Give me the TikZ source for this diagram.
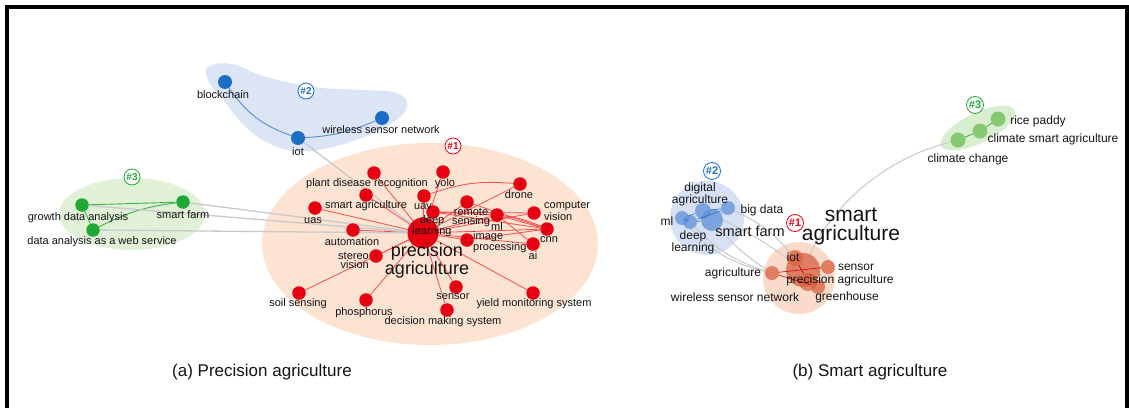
\documentclass[tikz,border=0pt]{standalone}
\usepackage{fontspec}
\setmainfont{Liberation Sans}
\definecolor{rnode}{HTML}{E60012}
\definecolor{redge}{HTML}{F25050}
\definecolor{peach}{HTML}{FDE3D2}
\definecolor{bnode}{HTML}{1C6EC4}
\definecolor{bedge}{HTML}{5A8CCF}
\definecolor{bhull}{HTML}{DCE5F6}
\definecolor{gnode}{HTML}{20A834}
\definecolor{gedge}{HTML}{40B448}
\definecolor{ghull}{HTML}{E0F1D8}
\definecolor{grayedge}{HTML}{C9C9C9}
\definecolor{txt}{HTML}{141414}
\definecolor{bnodeR}{HTML}{6190D8}
\definecolor{bhullR}{HTML}{D6E1F6}
\definecolor{onode}{HTML}{D8603E}
\definecolor{ohull}{HTML}{FADACB}
\definecolor{gnodeR}{HTML}{86C970}
\definecolor{ghullR}{HTML}{D9EED0}
\pgfdeclarelayer{hull}
\pgfdeclarelayer{edges}
\pgfsetlayers{hull,edges,main}
\begin{document}
\begin{tikzpicture}[x=1pt,y=-1pt,
  lab/.style={font=\fontsize{11}{9.5}\selectfont, text=txt, inner sep=0pt, align=center},
  labR/.style={font=\fontsize{12}{11}\selectfont, text=txt, inner sep=0pt, align=center},
  rn/.style={circle, fill=rnode, minimum size=13.5pt, inner sep=0pt},
  bn/.style={circle, fill=bnode, minimum size=14pt, inner sep=0pt},
  gn/.style={circle, fill=gnode, minimum size=13.5pt, inner sep=0pt},
  bnR/.style={circle, fill=bnodeR, fill opacity=0.75, minimum size=#1, inner sep=0pt},
  onR/.style={circle, fill=onode, fill opacity=0.75, minimum size=#1, inner sep=0pt},
  gnR/.style={circle, fill=gnodeR, minimum size=15pt, inner sep=0pt},
  clusttag/.style={circle, draw=#1, fill=white, line width=0.8pt, minimum size=16pt, inner sep=0pt, text=#1, font=\bfseries\fontsize{10}{10}\selectfont},
  redg/.style={draw=redge, line width=0.8pt},
  bedg/.style={draw=bedge, line width=0.9pt},
  gedg/.style={draw=gedge, line width=0.9pt},
  grayedg/.style={draw=grayedge, line width=1.3pt},
  caption/.style={font=\fontsize{17}{17}\selectfont, text=txt, inner sep=0pt}
]
\useasboundingbox (0,0) rectangle (1129,407);

% ---------- hulls ----------
\begin{pgfonlayer}{hull}
\fill[white] (0,0) rectangle (1129,407);
\fill[bhull] plot[smooth cycle, tension=0.7] coordinates {(208,67) (232,64) (263,76) (313,87) (363,90) (393,92) (407,102) (400,117) (373,133) (333,147) (297,151) (268,143) (245,126) (223,100) (209,82)};
\fill[ghull] (132,214) ellipse [x radius=73pt, y radius=36pt];
\fill[peach] (430,244) ellipse [x radius=168pt, y radius=101pt];
\fill[bhullR] (707,218) circle [radius=37pt];
\fill[ohull] (799,278) circle [radius=36pt];
\fill[ghullR, shift={(978,128)}, rotate=26] (0,0) ellipse [x radius=41pt, y radius=15pt];
\end{pgfonlayer}
\draw[line width=3.5pt] (7,415) -- (7,7) -- (1127,7) -- (1127,415);

% ---------- left panel nodes ----------
\node[circle, fill=rnode, minimum size=31pt, inner sep=0pt] (hubA) at (423,233) {};
\node[rn] (pdr) at (374,173) {};
\node[rn] (yolo) at (443,172) {};
\node[rn] (drone) at (520,184) {};
\node[rn] (sagr) at (366,195) {};
\node[rn] (uav) at (424,196) {};
\node[rn] (uas) at (315,208) {};
\node[rn] (rs) at (467,202) {};
\node[rn] (dl) at (433,212) {};
\node[rn] (ml) at (497,215) {};
\node[rn] (cv) at (534,213) {};
\node[rn] (cnn) at (547,229) {};
\node[rn] (auto) at (353,230) {};
\node[rn] (ip) at (467,240) {};
\node[rn] (ai) at (533,244) {};
\node[rn] (sv) at (376,256) {};
\node[rn] (soil) at (299,293) {};
\node[rn] (phos) at (366,300) {};
\node[rn] (sensor) at (456,287) {};
\node[rn] (dms) at (447,310) {};
\node[rn] (yms) at (533,293) {};

\node[bn] (bc) at (225,82) {};
\node[bn] (iotA) at (298,138) {};
\node[bn] (wsnA) at (382,118) {};

\node[gn] (gda) at (82,205) {};
\node[gn] (sfA) at (183,202) {};
\node[gn] (daws) at (93,230) {};

% ---------- left panel edges ----------
\begin{pgfonlayer}{edges}
\foreach \n in {pdr,yolo,drone,sagr,uav,uas,rs,dl,ml,cv,cnn,auto,ip,ai,sv,soil,phos,sensor,dms,yms}
  \draw[redg] (hubA) -- (\n);
\draw[redg] (uav) to[bend left=12] (drone);
\draw[redg] (dl) -- (ml);
\draw[redg] (dl) -- (cv);
\draw[redg] (dl) -- (cnn);
\draw[redg] (ml) -- (cnn);
\draw[redg] (ml) to[bend left=8] (cnn);
\draw[redg] (ml) -- (ai);
\draw[redg] (ip) -- (cnn);
\draw[redg] (rs) -- (cnn);
\draw[bedg] (bc) to[bend right=18] (iotA);
\draw[bedg] (iotA) to[bend right=10] (wsnA);
\draw[gedg] (gda) -- (sfA);
\draw[gedg] (gda) -- (daws);
\draw[gedg] (daws) to[bend left=10] (sfA);
\draw[grayedg] (iotA) -- (hubA);
\draw[grayedg] (sfA) -- (hubA);
\draw[grayedg] (gda) -- (hubA);
\draw[grayedg] (daws) -- (hubA);
\end{pgfonlayer}

% ---------- left panel labels ----------
\node[lab] (Lpdr) at (367,184) {plant disease recognition};
\node[lab] (Lyolo) at (445,184) {yolo};
\node[lab] (Ldrone) at (519,195) {drone};
\node[lab] (Lsagr) at (366,206) {smart agriculture};
\node[lab] (Luav) at (423,207) {uav};
\node[lab] (Luas) at (313,221) {uas};
\node[lab] (Lrs) at (471,217.5) {remote\\sensing};
\node[lab] (Ldl) at (432,226.5) {deep\\learning};
\node[lab] (Lml) at (497,227) {ml};
\node[lab, align=left, anchor=west] (Lcv) at (544,211) {computer\\vision};
\node[lab] (Lcnn) at (549,240) {cnn};
\node[lab] (Lauto) at (352,242) {automation};
\node[lab, align=left, anchor=west] (Lip) at (473,242.5) {image\\processing};
\node[lab] (Lai) at (533,256) {ai};
\node[lab, align=right, anchor=east] (Lsv) at (369,260.5) {stereo\\vision};
\node[lab] (Lsoil) at (298,304) {soil sensing};
\node[lab] (Lphos) at (364,313) {phosphorus};
\node[lab] (Lsensor) at (453,297) {sensor};
\node[lab] (Ldms) at (443,322) {decision making system};
\node[lab] (Lyms) at (534,304) {yield monitoring system};
\node[lab, font=\fontsize{18}{15}\selectfont] (LhubA) at (427,260.5) {precision\\agriculture};
\node[lab] (Lbc) at (223,95) {blockchain};
\node[lab] (Liot) at (298,152) {iot};
\node[lab] (Lwsn) at (381,130) {wireless sensor network};
\node[lab] (Lgda) at (78,218) {growth data analysis};
\node[lab] (Lsf) at (183,215) {smart farm};
\node[lab] (Ldaws) at (102,242) {data analysis as a web service};
\node[clusttag=rnode] (T1) at (453,146) {\#1};
\node[clusttag=bnode] (T2) at (306,91) {\#2};
\node[clusttag=gnode] (T3) at (132,177) {\#3};

% ---------- right panel nodes ----------
\node[bnR=14pt] (ml2) at (682,218) {};
\node[bnR=16pt] (da) at (703,211) {};
\node[bnR=14pt] (bd) at (728,208) {};
\node[bnR=14pt] (dl2) at (690,222) {};
\node[bnR=22pt] (sf2) at (712,220) {};

\node[onR=34pt] (hub2) at (803,270) {};
\node[onR=16pt] (iot2) at (795,258) {};
\node[onR=14pt] (agr2) at (772,273) {};
\node[onR=14pt] (sa2) at (828,267) {};
\node[onR=14pt] (gh2) at (818,287) {};
\node[onR=18pt] (prec2) at (808,282) {};

\node[gnR] (cc) at (958,140) {};
\node[gnR] (csa) at (980,131) {};
\node[gnR] (rp) at (998,119) {};

% ---------- right panel edges ----------
\begin{pgfonlayer}{edges}
\draw[grayedg, line width=1pt] (bd) to[bend left=12] (iot2);
\draw[grayedg, line width=1pt] (sf2) to[bend right=8] (agr2);
\draw[grayedg, line width=1pt] (da) to[bend left=6] (hub2);
\draw[grayedg, line width=1pt] (dl2) to[bend right=14] (agr2);
\draw[grayedg, line width=1pt] (ml2) to[bend right=18] (agr2);
\draw[grayedg, line width=1pt] (hub2) .. controls (830,210) and (880,160) .. (cc);
\draw[gedg] (cc) -- (csa) -- (rp);
\end{pgfonlayer}
\draw[draw=bnode, line width=0.6pt] (ml2) -- (da) -- (bd) -- (sf2) -- (dl2) -- (ml2);
\draw[draw=bnode, line width=0.6pt] (dl2) -- (bd);
\draw[draw=rnode!85!black, line width=0.6pt] (agr2) -- (sa2);
\draw[draw=rnode!85!black, line width=0.6pt] (iot2) -- (prec2);
\draw[draw=rnode!85!black, line width=0.6pt] (agr2) -- (gh2);
\draw[draw=rnode!85!black, line width=0.6pt] (hub2) -- (sa2);

% ---------- right panel labels ----------
\node[clusttag=bnode, minimum size=17pt, font=\bfseries\fontsize{11}{11}\selectfont] (T2R) at (712,171) {\#2};
\node[labR] (Lda) at (700,194) {digital\\agriculture};
\node[labR] (Lbd) at (762,210) {big data};
\node[labR] (Lml2) at (667,221) {ml};
\node[labR, font=\fontsize{14.5}{14}\selectfont] (Lsf2) at (750,231) {smart farm};
\node[labR] (Ldl2) at (693,242.5) {deep\\learning};
\node[clusttag=rnode, minimum size=17pt, font=\bfseries\fontsize{11}{11}\selectfont] (T1R) at (795,223) {\#1};
\node[labR, font=\fontsize{21}{19}\selectfont] (Lhub2) at (851,226.5) {smart\\agriculture};
\node[labR] (Liot2) at (793,257) {iot};
\node[labR] (Lagr2) at (733,273) {agriculture};
\node[labR] (Lsa2) at (856,267) {sensor};
\node[labR] (Lprec2) at (840,280) {precision agriculture};
\node[labR] (Lgh2) at (847,297) {greenhouse};
\node[labR] (Lwsn2) at (735,297) {wireless sensor network};
\node[clusttag=gnode, minimum size=17pt, font=\bfseries\fontsize{11}{11}\selectfont] (T3R) at (975,105) {\#3};
\node[labR] (Lrp) at (1038,121) {rice paddy};
\node[labR] (Lcsa) at (1053,139) {climate smart agriculture};
\node[labR] (Lcc) at (968,159) {climate change};

% ---------- captions ----------
\node[caption] (capA) at (262,372) {(a) Precision agriculture};
\node[caption] (capB) at (870,372) {(b) Smart agriculture};
\end{tikzpicture}
\end{document}
